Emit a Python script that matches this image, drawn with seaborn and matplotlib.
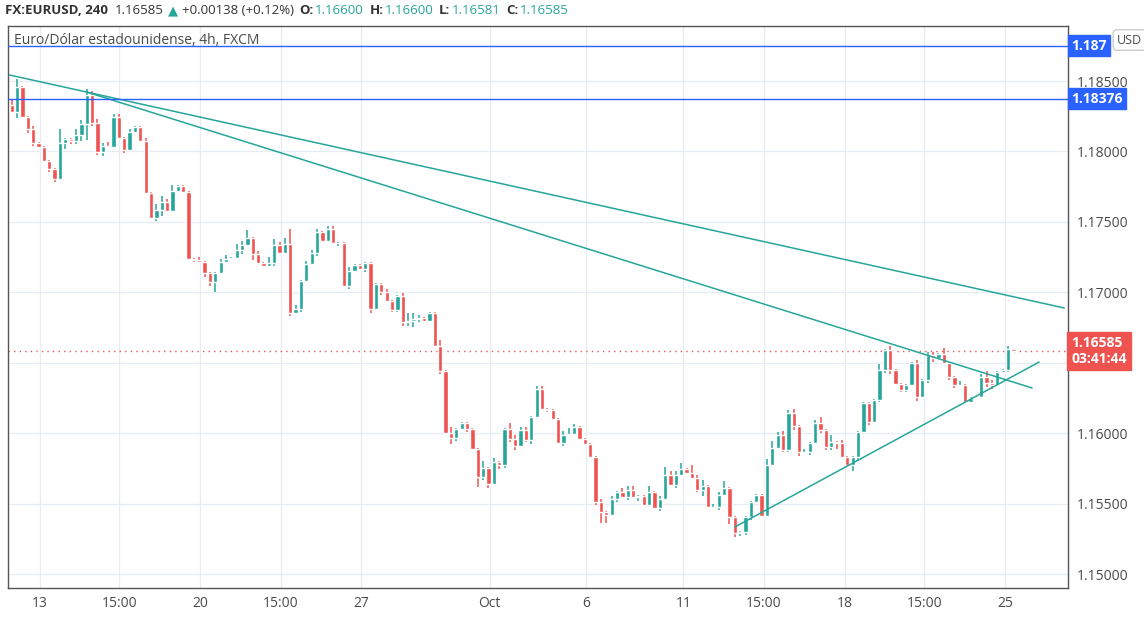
import numpy as np
import pandas as pd
import seaborn as sns
import matplotlib.pyplot as plt

# %% data: EUR/USD 4h candles
closes = [
    1.18280, 1.18458, 1.18245, 1.18160, 1.18060, 1.18032, 1.17932, 1.17876, 1.17805, 1.18060,
    1.18089, 1.18074, 1.18117, 1.18195, 1.18401, 1.18202, 1.17996, 1.18039, 1.18032, 1.18245,
    1.18096, 1.18010, 1.18138, 1.18174, 1.18074, 1.17705, 1.17528, 1.17584, 1.17641, 1.17577,
    1.17719, 1.17755, 1.17712, 1.17237, 1.17229, 1.17215, 1.17137, 1.17073, 1.17137, 1.17215,
    1.17237, 1.17244, 1.17300, 1.17336, 1.17386, 1.17272, 1.17208, 1.17187, 1.17208, 1.17336,
    1.17279, 1.17343, 1.16853, 1.16882, 1.17080, 1.17201, 1.17279, 1.17428, 1.17364, 1.17450,
    1.17350, 1.17350, 1.17045, 1.17151, 1.17194, 1.17166, 1.17208, 1.16882, 1.17059, 1.17002,
    1.16938, 1.16874, 1.16974, 1.16789, 1.16796, 1.16811, 1.16818, 1.16796, 1.16853, 1.16619,
    1.16441, 1.16001, 1.15966, 1.16030, 1.16072, 1.16030, 1.15888, 1.15689, 1.15753, 1.15639,
    1.15795, 1.15774, 1.16030, 1.15959, 1.15909, 1.16022, 1.15951, 1.16115, 1.16314, 1.16172,
    1.16164, 1.16101, 1.15930, 1.15987, 1.15994, 1.16044, 1.15959, 1.15923, 1.15831, 1.15511,
    1.15440, 1.15419, 1.15533, 1.15582, 1.15547, 1.15596, 1.15547, 1.15554, 1.15490, 1.15582,
    1.15469, 1.15533, 1.15703, 1.15632, 1.15703, 1.15746, 1.15717, 1.15682, 1.15596, 1.15625,
    1.15476, 1.15476, 1.15561, 1.15611, 1.15405, 1.15291, 1.15298, 1.15405, 1.15511, 1.15561,
    1.15412, 1.15774, 1.15895, 1.15987, 1.15880, 1.16143, 1.16051, 1.15866, 1.15866, 1.15930,
    1.16072, 1.16022, 1.15902, 1.15937, 1.15930, 1.15831, 1.15774, 1.15831, 1.16008, 1.16214,
    1.16079, 1.16235, 1.16448, 1.16590, 1.16448, 1.16349, 1.16306, 1.16342, 1.16498, 1.16257,
    1.16377, 1.16555, 1.16534, 1.16562, 1.16498, 1.16399, 1.16342, 1.16342, 1.16221, 1.16250,
    1.16257, 1.16399, 1.16356, 1.16342, 1.16434, 1.16448, 1.16600, 1.16585,
]
first_open = 1.18330

# wick sizes in pips (0.0001), above and below the body
wick_up = [
    4, 6, 1, 1, 2, 1, 1, 1, 1, 10, 1, 1, 4, 3, 4, 3, 3, 2, 3, 2,
    2, 1, 2, 1, 1, 2, 1, 4, 4, 2, 4, 1, 1, 1, 1, 2, 1, 1, 1, 2,
    3, 1, 4, 3, 6, 1, 2, 1, 4, 4, 2, 4, 11, 3, 1, 2, 2, 2, 1, 2,
    2, 1, 1, 3, 1, 1, 1, 1, 1, 1, 2, 1, 1, 2, 6, 4, 2, 1, 1, 1,
    4, 1, 4, 1, 1, 1, 1, 1, 5, 1, 3, 1, 1, 4, 3, 2, 2, 1, 2, 2,
    1, 1, 1, 3, 4, 2, 1, 1, 1, 1, 2, 1, 2, 1, 3, 3, 3, 1, 1, 4,
    1, 2, 6, 3, 3, 4, 1, 6, 2, 4, 1, 2, 2, 5, 1, 1, 1, 1, 1, 1,
    1, 4, 5, 2, 3, 2, 3, 1, 2, 1, 2, 4, 1, 5, 1, 2, 1, 1, 1, 1,
    1, 1, 4, 1, 3, 1, 1, 1, 1, 2, 1, 2, 2, 1, 4, 1, 1, 3, 1, 1,
    1, 2, 4, 2, 1, 1, 2, 0,
]
wick_dn = [
    1, 4, 1, 3, 2, 1, 1, 2, 2, 1, 4, 2, 2, 4, 11, 2, 2, 3, 1, 1,
    1, 2, 1, 1, 1, 1, 1, 2, 4, 1, 1, 1, 1, 1, 1, 1, 3, 3, 7, 1,
    1, 1, 1, 3, 1, 4, 1, 1, 1, 2, 1, 1, 2, 1, 2, 1, 1, 2, 1, 1,
    1, 2, 1, 2, 1, 1, 2, 3, 1, 2, 1, 1, 1, 3, 3, 4, 2, 1, 1, 1,
    2, 1, 4, 2, 1, 2, 1, 7, 2, 3, 1, 3, 2, 2, 3, 1, 1, 3, 1, 1,
    1, 1, 1, 2, 1, 1, 1, 1, 1, 2, 8, 6, 1, 2, 1, 2, 1, 3, 1, 1,
    1, 2, 1, 1, 2, 1, 1, 1, 1, 4, 1, 1, 2, 1, 5, 3, 2, 2, 2, 1,
    1, 1, 1, 1, 1, 1, 3, 3, 1, 2, 1, 2, 2, 2, 4, 1, 1, 4, 3, 1,
    2, 1, 1, 2, 3, 1, 1, 1, 1, 3, 1, 2, 3, 1, 1, 2, 2, 1, 1, 1,
    1, 1, 3, 3, 1, 1, 1, 0,
]

h_levels = [1.18750, 1.18376]
last_price = 1.16585
# trendlines: (candle index, price) pairs
trend_a = ([0.6, 197.5], [1.18543, 1.16889])
trend_b = ([15, 191.5], [1.18422, 1.16321])
trend_c = ([136, 192.8], [1.15334, 1.16505])

tick_pos = [6.2, 21.1, 36.2, 51.2, 66.2, 90.2, 108.3, 126.4, 141.4, 156.5, 171.4, 186.5]
tick_lab = ["13", "15:00", "20", "15:00", "27", "Oct", "6", "11", "15:00", "18", "15:00", "25"]
y_ticks = [1.150, 1.155, 1.160, 1.165, 1.170, 1.175, 1.180, 1.185]

# %% build OHLC table
df = pd.DataFrame({"close": closes})
df["idx"] = np.arange(1, len(df) + 1)
df["open"] = [first_open] + closes[:-1]
df["up"] = df["close"] >= df["open"]
df["high"] = df[["open", "close"]].max(axis=1) + np.array(wick_up) * 1e-4
df["low"] = df[["open", "close"]].min(axis=1) - np.array(wick_dn) * 1e-4

green = "#26a69a"
red = "#ef5350"

sns.set_style("white")
plt.rcParams["font.family"] = ["Open Sans", "DejaVu Sans"]

fig = plt.figure(figsize=(11.44, 6.19), dpi=100)
ax = fig.add_axes([8 / 1144, 31 / 619, 1060 / 1144, 562 / 619])

for y in y_ticks:
    ax.axhline(y, color="#e6ecf2", lw=0.9, zorder=0)
for x in tick_pos:
    ax.axvline(x, color="#e6ecf2", lw=0.9, zorder=0)

cols = np.where(df["up"], green, red)
ax.vlines(df["idx"], df["low"], df["high"], colors=cols, lw=1.1, zorder=2)
body_lo = df[["open", "close"]].min(axis=1)
body_h = (df["close"] - df["open"]).abs().clip(lower=0.00002)
ax.bar(df["idx"], body_h, bottom=body_lo, width=0.8, color=cols, zorder=3)

for xs, ys in (trend_a, trend_b, trend_c):
    sns.lineplot(x=xs, y=ys, ax=ax, color=green, lw=1.1, zorder=4)

for lv in h_levels:
    ax.axhline(lv, color="#2962ff", lw=1.0, zorder=4)
ax.axhline(last_price, color=red, lw=1.0, ls=(0, (1, 3)), zorder=1)

ax.set_xlim(0.3, 198.2)
ax.set_ylim(1.14901, 1.18891)
ax.set_xticks(tick_pos)
ax.set_xticklabels(tick_lab, fontsize=10, color="#4a4a4a")
ax.set_yticks(y_ticks)
# the 1.16500 label sits under the last-price tag
ax.set_yticklabels(["" if v == 1.165 else f"{v:.5f}" for v in y_ticks],
                   fontsize=10, color="#4a4a4a")
ax.yaxis.tick_right()
ax.tick_params(axis="both", length=0, pad=6)
for s in ax.spines.values():
    s.set_color("#555555")
    s.set_linewidth(1.0)

# price tags on the right scale
ytr = ax.get_yaxis_transform()
ax.text(1.003, last_price, "1.16585\n03:41:44", transform=ytr,
        color="white", fontsize=10, fontweight="bold", va="center", ha="left",
        linespacing=1.15, bbox=dict(boxstyle="square,pad=0.3", fc=red, ec=red))
ax.text(1.003, h_levels[1], "1.18376", transform=ytr,
        color="white", fontsize=10, fontweight="bold", va="center", ha="left",
        bbox=dict(boxstyle="square,pad=0.25", fc="#2962ff", ec="#2962ff"))
ax.text(1.003, h_levels[0], "1.187", transform=ytr,
        color="white", fontsize=10, fontweight="bold", va="center", ha="left",
        bbox=dict(boxstyle="square,pad=0.25", fc="#2962ff", ec="#2962ff"))
ax.text(1.058, 0.975, "USD", transform=ax.transAxes, fontsize=9, color="#4a4a4a",
        va="center", ha="center", zorder=10,
        bbox=dict(boxstyle="round,pad=0.3", fc="white", ec="#cccccc"))

ax.text(0.006, 0.975, "Euro/Dólar estadounidense, 4h, FXCM", transform=ax.transAxes,
        fontsize=10, color="#4a4a4a", va="center")

# header line, each piece placed right after the previous one
parts = [
    ("FX:EURUSD, 240", "#333333", "bold", 0),
    ("1.16585", "#333333", "normal", 5),
    ("▲", green, "normal", 3),
    ("+0.00138 (+0.12%)", "#333333", "normal", 3),
    ("O:", "#333333", "bold", 4), ("1.16600", green, "normal", 1),
    ("H:", "#333333", "bold", 4), ("1.16600", green, "normal", 1),
    ("L:", "#333333", "bold", 4), ("1.16581", green, "normal", 1),
    ("C:", "#333333", "bold", 4), ("1.16585", green, "normal", 1),
]
prev = fig.text(0.004, 0.983, parts[0][0], fontsize=9.5, fontweight="bold",
                color="#333333", va="center")
for txt, c, w, gap in parts[1:]:
    prev = fig.text(0, 0, txt, fontsize=9.5, fontweight=w, color=c, va="center")
    prev_xy = prev
prev = None
# re-do placement with annotate chaining
for t in list(fig.texts)[1:]:
    t.remove()
anchor = fig.texts[0]
for txt, c, w, gap in parts[1:]:
    anchor = fig.add_artist(plt.Annotation(txt, xy=(1, 0.5), xycoords=anchor,
                                           xytext=(gap, 0), textcoords="offset points",
                                           va="center", ha="left", fontsize=9.5,
                                           fontweight=w, color=c))

fig.savefig("out.png", dpi=100, facecolor="white")
